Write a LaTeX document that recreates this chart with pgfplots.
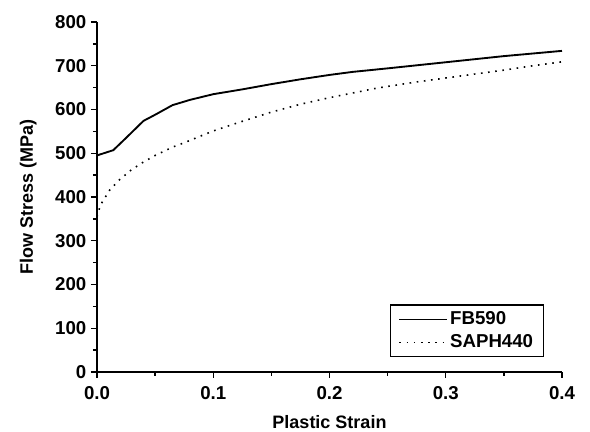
\documentclass[border=0pt]{standalone}
\usepackage{pgfplots}
\pgfplotsset{compat=1.18}
\usepackage{fontspec}
\setmainfont{Liberation Sans}
\begin{document}
\begin{tikzpicture}[x=0.75pt,y=0.75pt]
\useasboundingbox (-97,-60) rectangle (493,22+350);
\begin{axis}[
  at={(0,0)}, anchor=south west,
  scale only axis,
  width=348.75pt, height=262.5pt,
  xmin=0, xmax=0.4, ymin=0, ymax=800,
  axis lines*=left,
  axis line style={line width=1.2pt},
  tick align=outside,
  major tick length=4.5pt, minor tick length=3pt,
  every tick/.style={line width=1pt, black},
  xtick={0,0.1,0.2,0.3,0.4},
  minor xtick={0.05,0.15,0.25,0.35},
  ytick={0,100,...,800},
  minor ytick={50,150,...,750},
  xticklabel style={/pgf/number format/fixed, /pgf/number format/zerofill, /pgf/number format/precision=1, yshift=-3pt},
  /pgf/number format/assume math mode=true,
  tick label style={font=\fontsize{14}{16}\selectfont\bfseries},
  label style={font=\fontsize{13.5}{16}\selectfont\bfseries},
  xlabel={Plastic Strain},
  ylabel={Flow Stress (MPa)},
  xlabel style={yshift=-5pt},
  ylabel style={yshift=7pt},
  legend style={at={(0.962,0.043)}, anchor=south east, draw=black, line width=0.8pt,
    font=\fontsize{14}{16}\selectfont\bfseries, inner xsep=6pt, inner ysep=3pt, row sep=2pt},
  legend cell align=left,
  legend image code/.code={\draw[#1, line width=1pt] (0cm,0cm) -- (1.25cm,0cm);},
]
\addplot[black, line width=1.4pt] coordinates {
(0,495) (0.014,507) (0.025,535) (0.040,574) (0.05,588) (0.065,610) (0.08,622)
(0.1,635) (0.125,646) (0.15,658) (0.175,669) (0.2,679) (0.22,686) (0.25,694)
(0.275,701) (0.3,708) (0.325,715) (0.35,722) (0.375,728) (0.4,734)
};
\addlegendentry{FB590}
\addplot[black, line width=1.2pt, dash pattern=on 1.2pt off 4.2pt] coordinates {
(0,355) (0.003,382) (0.011,416) (0.02,441) (0.03,463) (0.04,480) (0.05,495)
(0.065,514) (0.075,524) (0.1,551) (0.125,573) (0.15,594) (0.175,612) (0.2,627)
(0.241,649) (0.275,663) (0.3,672) (0.325,681) (0.35,690) (0.375,700) (0.4,709)
};
\addlegendentry{SAPH440}
\end{axis}
\end{tikzpicture}
\end{document}
